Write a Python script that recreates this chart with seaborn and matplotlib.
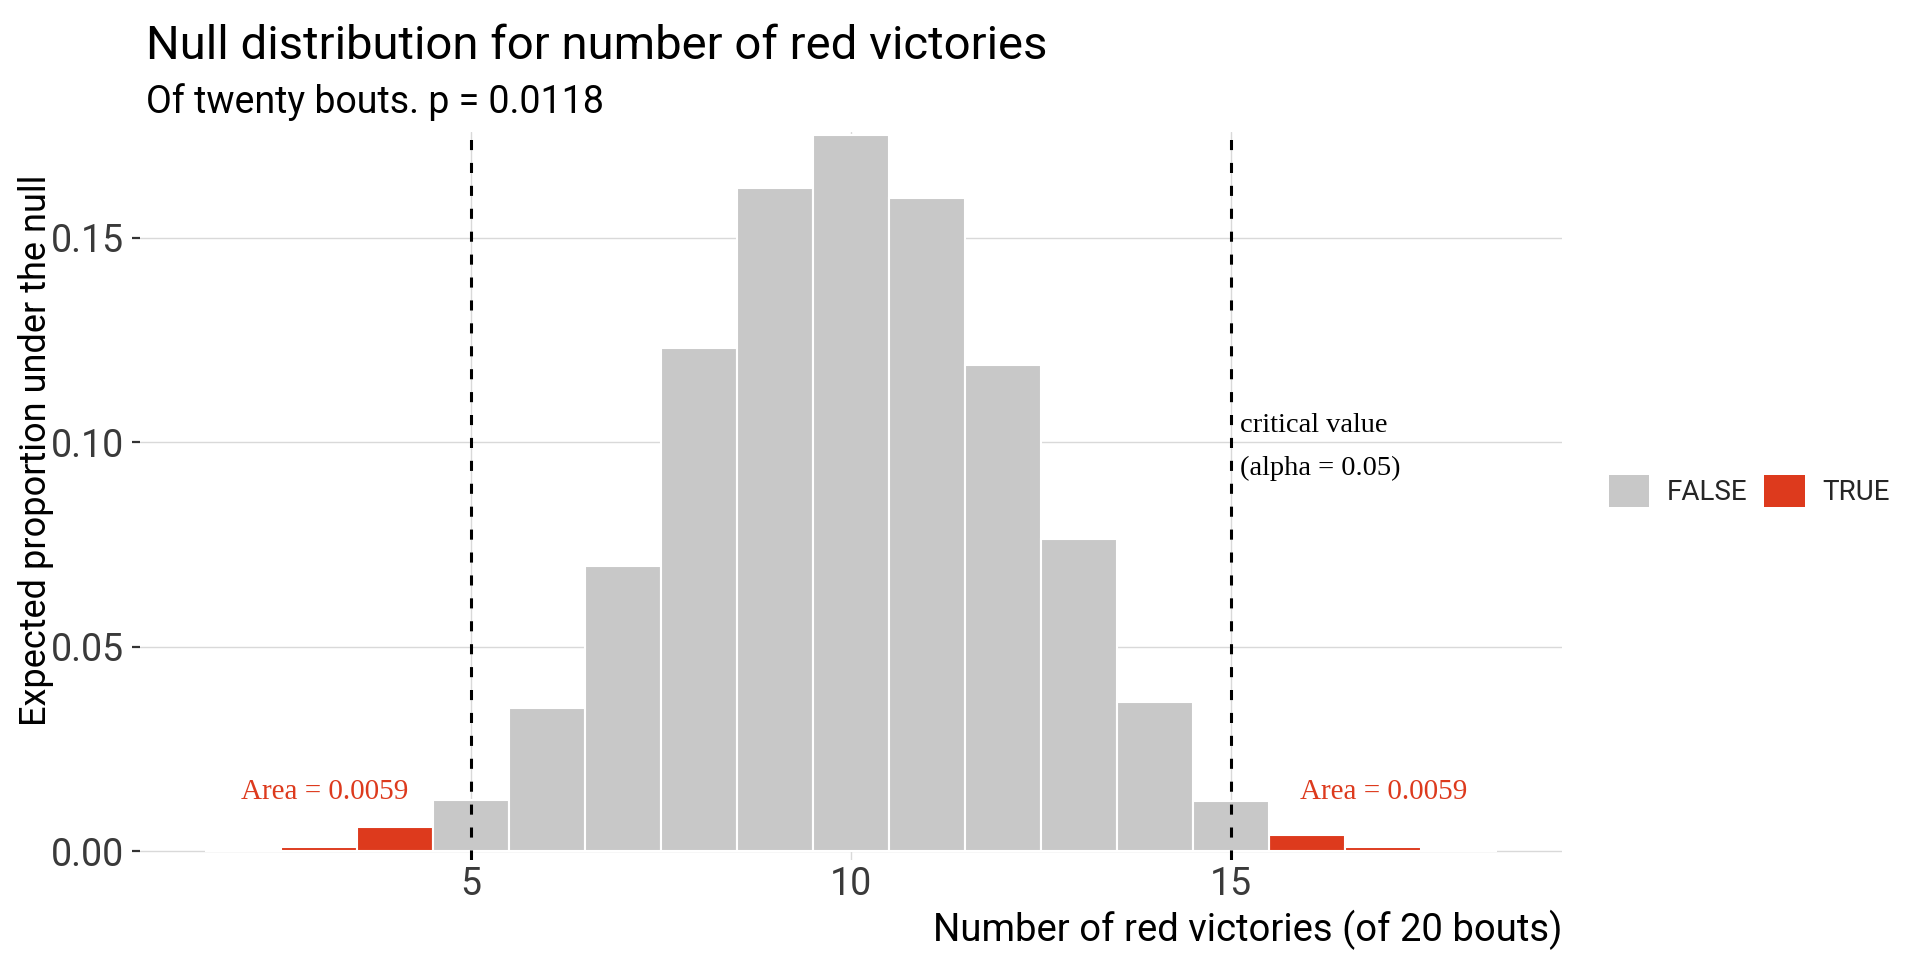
import matplotlib
matplotlib.use("Agg")
import matplotlib.pyplot as plt
import matplotlib.patches as mpatches
import seaborn as sns
import pandas as pd

# data: simulated null distribution of red victories (of 20 bouts)
n_red = [2, 3, 4, 5, 6, 7, 8, 9, 10, 11, 12, 13, 14, 15, 16, 17, 18]
prop = [0.0, 0.0009, 0.0058, 0.0124, 0.0350, 0.0697, 0.1230, 0.1622, 0.1752,
        0.1598, 0.1189, 0.0763, 0.0365, 0.0123, 0.0040, 0.0011, 0.0]
extreme = ["TRUE", "TRUE", "TRUE", "FALSE", "FALSE", "FALSE", "FALSE", "FALSE", "FALSE",
           "FALSE", "FALSE", "FALSE", "FALSE", "FALSE", "TRUE", "TRUE", "TRUE"]
crit_vals = [5, 15]
x_ticks = [5, 10, 15]
y_ticks = [0.00, 0.05, 0.10, 0.15]
area_left = "Area = 0.0059"
area_right = "Area = 0.0059"

df = pd.DataFrame({"n": n_red, "prop": prop, "extreme": extreme})

sns.set_style("white")
plt.rcParams["font.family"] = ["Roboto", "DejaVu Sans"]
plt.rcParams["axes.unicode_minus"] = False

grey = "#C8C8C8"
red = "#DD3A1D"
pal = {"FALSE": grey, "TRUE": red}

W, H = 1920, 960
fig = plt.figure(figsize=(19.2, 9.6), dpi=100)
ax = fig.add_axes([140 / W, 1 - 860 / H, (1562 - 140) / W, (860 - 132) / H])

ax.set_axisbelow(True)
ax.grid(True, color="#D9D9D9", linewidth=1.0)

sns.barplot(data=df, x="n", y="prop", hue="extreme", palette=pal,
            native_scale=True, dodge=False, width=1.0, saturation=1,
            edgecolor="white", linewidth=1.5, legend=False, ax=ax)

for v in crit_vals:
    ax.axvline(v, color="black", linewidth=2.2, linestyle=(0, (3.3, 4.2)), zorder=5)

ax.set_xlim(0.65, 19.35)
ax.set_ylim(-0.0022, 0.1759)
ax.set_xticks(x_ticks)
ax.set_xticklabels([str(t) for t in x_ticks])
ax.set_yticks(y_ticks)
ax.set_yticklabels(["%.2f" % t for t in y_ticks])
ax.tick_params(axis="x", length=0, pad=4, labelsize=27, labelcolor="#3A3A3A")
ax.tick_params(axis="y", length=5.5, width=1.6, color="#333333", pad=6,
               labelsize=27, labelcolor="#3A3A3A", left=True)
ax.set_xlabel("")
ax.set_ylabel("")
sns.despine(ax=ax, left=True, bottom=True)

# annotations
serif = ["Liberation Serif", "DejaVu Serif"]
ax.text(15.11, 0.1042, "critical value", family=serif, fontsize=20.5,
        color="black", ha="left", va="center")
ax.text(15.11, 0.0937, "(alpha = 0.05)", family=serif, fontsize=20.5,
        color="black", ha="left", va="center")
ax.text(3.08, 0.0127, area_left, family=serif, fontsize=21, color=red,
        ha="center", va="baseline")
ax.text(17.0, 0.0127, area_right, family=serif, fontsize=21, color=red,
        ha="center", va="baseline")

# titles
fig.text(146 / W, 1 - 59 / H, "Null distribution for number of red victories",
         fontsize=34, ha="left", va="baseline", color="black")
fig.text(146 / W, 1 - 113 / H, "Of twenty bouts. p = 0.0118",
         fontsize=27, ha="left", va="baseline", color="black")
fig.text(1562 / W, 1 - 941 / H, "Number of red victories (of 20 bouts)",
         fontsize=27.5, ha="right", va="baseline", color="black")
fig.text(36 / W, 1 - 450 / H, "Expected proportion under the null",
         fontsize=26, rotation=90, ha="center", va="center", color="black")

# legend
handles = [mpatches.Patch(facecolor=grey, edgecolor="none", label="FALSE"),
           mpatches.Patch(facecolor=red, edgecolor="none", label="TRUE")]
fig.legend(handles=handles, loc="center left", bbox_to_anchor=(1609 / W, 1 - 491 / H),
           ncol=2, frameon=False, fontsize=20, handlelength=1.45, handleheight=1.45,
           handletextpad=0.62, columnspacing=0.62, borderpad=0, borderaxespad=0)

fig.savefig("out.png", dpi=100)
